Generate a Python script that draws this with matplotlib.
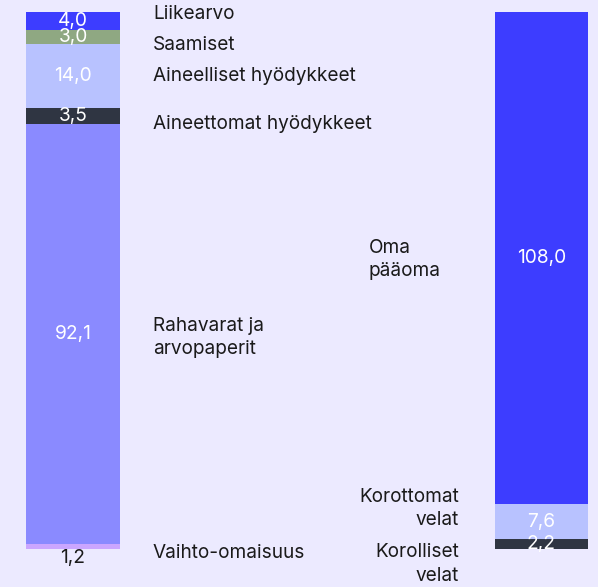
import matplotlib
matplotlib.use('Agg')
from matplotlib import pyplot as plt

plt.rcParams['font.family'] = ['Inter', 'DejaVu Sans']

# Vastaavaa (assets), bottom to top
asset_names = ['Vaihto-omaisuus', 'Rahavarat ja\narvopaperit', 'Aineettomat hyödykkeet',
               'Aineelliset hyödykkeet', 'Saamiset', 'Liikearvo']
asset_values = [1.2, 92.1, 3.5, 14.0, 3.0, 4.0]
asset_colors = ['#CBA6FF', '#8A8AFF', '#2F3542', '#B8C2FF', '#8FA882', '#3D3DFF']
# label y positions (data units) after spreading to avoid overlap
asset_label_y = [-0.9, 46.4, 93.3, 103.7, 110.6, 117.3]

# Vastattavaa (liabilities), bottom to top
liab_names = ['Korolliset\nvelat', 'Korottomat\nvelat', 'Oma\npääoma']
liab_values = [2.2, 7.6, 108.0]
liab_colors = ['#2F3542', '#B8C2FF', '#3D3DFF']
liab_label_y = [-3.3, 8.9, 63.5]

bg = '#ECEAFF'
fig = plt.figure(figsize=(5.98, 5.87), dpi=100, facecolor=bg)
ax = fig.add_axes([0, 0, 1, 1], facecolor=bg)
ax.set_xlim(0, 598)
ax.set_ylim(-8.34, 120.43)
ax.axis('off')

fs = 13.7
vfs = 13.8

# left bar
bottom = 0
for i, (v, c) in enumerate(zip(asset_values, asset_colors)):
    ax.bar(73, v, bottom=bottom, width=94, color=c, edgecolor='none')
    txt = f'{v:.1f}'.replace('.', ',')
    if v < 2:
        ax.text(73, bottom - 1.9, txt, ha='center', va='center', color='#1a1a1a', fontsize=vfs)
    else:
        ax.text(73, bottom + v / 2, txt, ha='center', va='center', color='white', fontsize=vfs)
    ax.text(153, asset_label_y[i], asset_names[i], ha='left', va='center', color='#1a1a1a',
            fontsize=fs, linespacing=1.4)
    bottom += v

# right bar
bottom = 0
for i, (v, c) in enumerate(zip(liab_values, liab_colors)):
    ax.bar(541.5, v, bottom=bottom, width=93, color=c, edgecolor='none')
    txt = f'{v:.1f}'.replace('.', ',')
    ax.text(541.5, bottom + v / 2, txt, ha='center', va='center', color='white', fontsize=vfs)
    if i == 2:
        ax.text(369, liab_label_y[i], liab_names[i], ha='left', va='center', color='#1a1a1a',
                fontsize=fs, linespacing=1.4)
    else:
        ax.text(459, liab_label_y[i], liab_names[i], ha='right', va='center', color='#1a1a1a',
                fontsize=fs, linespacing=1.4)
    bottom += v

fig.savefig('out.png', dpi=100, facecolor=bg)
